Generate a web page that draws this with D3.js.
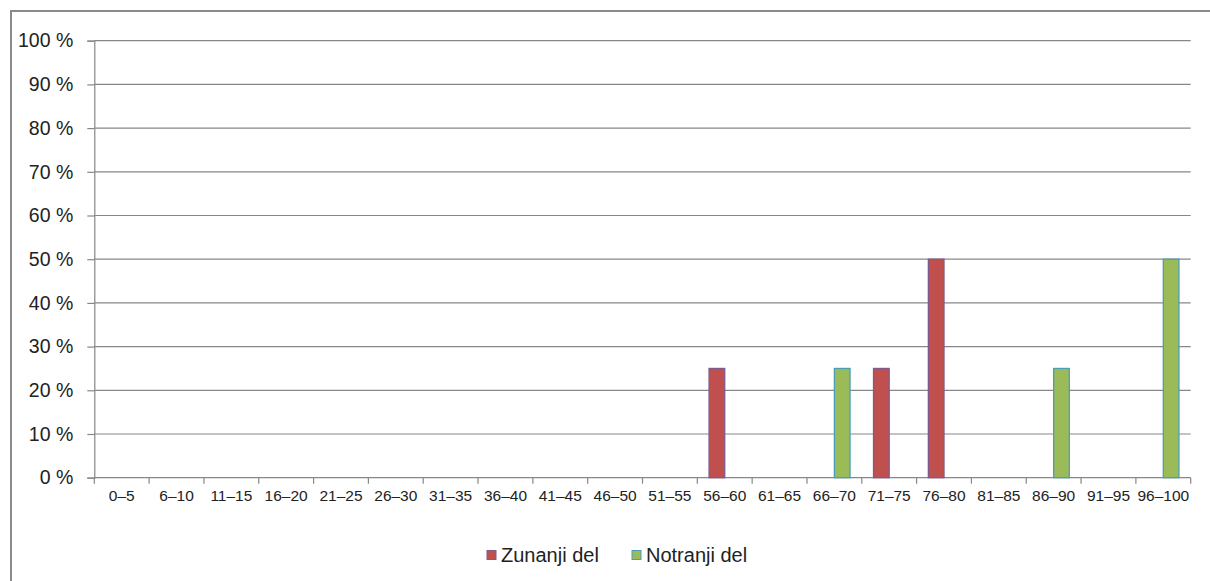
<!DOCTYPE html>
<html>
<head>
<meta charset="utf-8">
<script src="https://cdn.jsdelivr.net/npm/d3@7"></script>
<style>
  body { margin: 0; background: #fff; }
  svg { display: block; font-family: "Liberation Sans", Arial, sans-serif; }
</style>
</head>
<body>
<svg width="1210" height="581"></svg>
<script>
// Data
const categories = ["0–5", "6–10", "11–15", "16–20", "21–25", "26–30", "31–35", "36–40", "41–45", "46–50",
                    "51–55", "56–60", "61–65", "66–70", "71–75", "76–80", "81–85", "86–90", "91–95", "96–100"];
const seriesNames = ["Zunanji del", "Notranji del"];
const zunanji  = [0, 0, 0, 0, 0, 0, 0, 0, 0, 0, 0, 25, 0, 0, 25, 50, 0, 0, 0, 0];
const notranji = [0, 0, 0, 0, 0, 0, 0, 0, 0, 0, 0, 0, 0, 25, 0, 0, 0, 25, 0, 50];
const yTicks = [0, 10, 20, 30, 40, 50, 60, 70, 80, 90, 100];

const fills   = ["#C0504D", "#9BBB59"];
const strokes = ["#7E5B8E", "#4A9EB8"];

const svg = d3.select("svg");

// Outer chart border (runs off right and bottom edges)
svg.append("rect")
   .attr("x", 11).attr("y", 11)
   .attr("width", 1220).attr("height", 600)
   .attr("fill", "none")
   .attr("stroke", "#8a8a8a")
   .attr("stroke-width", 2);

// Plot area
const plot = { left: 94.3, right: 1190.7, top: 40.7, bottom: 477.7 };

const xScale = d3.scaleBand()
                 .domain(categories)
                 .range([plot.left, plot.right])
                 .padding(0);
const xSub = d3.scaleBand()
               .domain(seriesNames)
               .range([0, xScale.bandwidth()])
               .paddingInner(0)
               .paddingOuter(0.75);
const yScale = d3.scaleLinear()
                 .domain([0, 100])
                 .range([plot.bottom, plot.top]);

const gridColor = "#878787";

// Gridlines
svg.append("g")
   .selectAll("line")
   .data(yTicks.filter(d => d > 0))
   .join("line")
   .attr("x1", plot.left).attr("x2", plot.right)
   .attr("y1", d => yScale(d)).attr("y2", d => yScale(d))
   .attr("stroke", gridColor)
   .attr("stroke-width", 1.2);

// Y axis
const yAxis = svg.append("g")
   .attr("transform", `translate(${plot.left},0)`)
   .call(d3.axisLeft(yScale).tickValues(yTicks).tickSize(7).tickPadding(14).tickFormat(d => d + " %"));
yAxis.select(".domain").attr("stroke", gridColor).attr("stroke-width", 1.2);
yAxis.selectAll(".tick line").attr("stroke", gridColor).attr("stroke-width", 1.2);
yAxis.selectAll("text")
     .style("font-size", "19.5px")
     .style("font-family", "Liberation Sans, Arial, sans-serif")
     .attr("fill", "#222");

// X axis (ticks at category boundaries)
const xAxis = svg.append("g")
   .attr("transform", `translate(0,${plot.bottom})`)
   .call(d3.axisBottom(xScale).tickSize(0).tickPadding(12));
xAxis.select(".domain").remove();
xAxis.selectAll("text")
     .style("font-size", "15.5px")
     .style("font-family", "Liberation Sans, Arial, sans-serif")
     .attr("fill", "#222");

svg.append("line")
   .attr("x1", plot.left).attr("x2", plot.right)
   .attr("y1", plot.bottom).attr("y2", plot.bottom)
   .attr("stroke", gridColor).attr("stroke-width", 1.2);

svg.append("g")
   .selectAll("line")
   .data(d3.range(categories.length + 1))
   .join("line")
   .attr("x1", i => plot.left + i * xScale.step())
   .attr("x2", i => plot.left + i * xScale.step())
   .attr("y1", plot.bottom).attr("y2", plot.bottom + 6)
   .attr("stroke", gridColor).attr("stroke-width", 1.2);

// Bars
const seriesData = [zunanji, notranji];
seriesNames.forEach((name, si) => {
  svg.append("g")
     .selectAll("rect")
     .data(categories.map((c, i) => ({ c, v: seriesData[si][i] })).filter(d => d.v > 0))
     .join("rect")
     .attr("x", d => xScale(d.c) + xSub(name))
     .attr("width", xSub.bandwidth())
     .attr("y", d => yScale(d.v))
     .attr("height", d => yScale(0) - yScale(d.v))
     .attr("fill", fills[si])
     .attr("stroke", strokes[si])
     .attr("stroke-width", 1.3);
});

// Legend
const legendItems = [{ x: 487, name: seriesNames[0] }, { x: 632, name: seriesNames[1] }];
const legend = svg.append("g");
legendItems.forEach((it, i) => {
  legend.append("rect")
        .attr("x", it.x).attr("y", 550.5)
        .attr("width", 9).attr("height", 9)
        .attr("fill", fills[i])
        .attr("stroke", strokes[i])
        .attr("stroke-width", 1);
  legend.append("text")
        .attr("x", it.x + 14).attr("y", 562)
        .style("font-size", "20px")
        .attr("fill", "#222")
        .text(it.name);
});
</script>
</body>
</html>
